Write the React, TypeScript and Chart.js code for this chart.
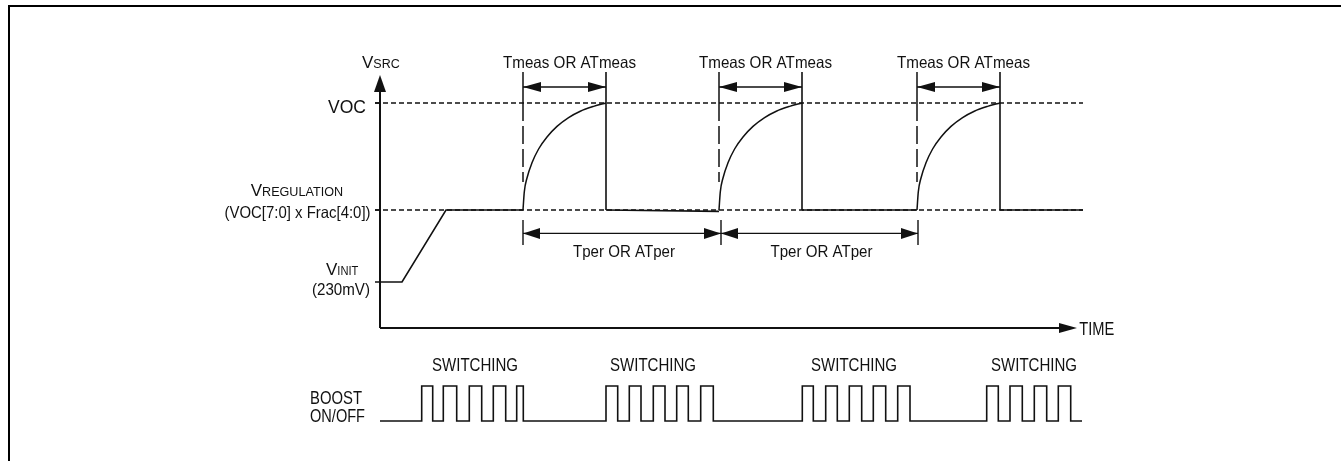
import { useEffect, useRef } from "react";
import { Chart, registerables } from "chart.js";

Chart.register(...registerables);

const FONT = '"Liberation Sans", Arial, Helvetica, sans-serif';
const INK = "#111111";

// ---- voltage levels (mV) ----
const V_OC = 1125;
const V_REG = 590;
const V_INIT = 230;
const V_AXIS_TOP = 1265;

// ---- time (arbitrary units) ----
const T_AXIS_END = 69.7;
const T_END = 70.3;
const RAMP_T = [0, 2.2, 6.6];
const RAMP_MV = [230, 230, 590];
const CYCLE_START = [14.3, 33.9, 53.7];
const T_MEAS = 8.3;
const REG_AFTER_DROP = [583, 590, 590];
// shape of one measurement rise (offset from cycle start, mV)
const CURVE_DT = [0, 0.13, 0.4, 0.9, 1.56, 2.4, 3.4, 4.56, 5.73, 7.06, 8.3];
const CURVE_MV = [590, 681, 750, 826, 895, 955, 1008, 1052, 1084, 1108, 1125];

// ---- annotation markers ----
const TPER_MARKS = [14.3, 34.1, 53.8];
const MARK_TOP_MV = 1280;
const TMEAS_ARROW_MV = 1205;
const DASH_END_MV = 730;
const TPER_ARROW_MV = 473;
const TPER_TICK_MV = [415, 540];

// ---- boost on/off edges (time of each toggle, starting low) ----
const BOOST_GROUPS = [
  [4.17, 5.27, 6.33, 7.67, 8.93, 10.17, 11.33, 12.57, 13.67, 14.33],
  [22.6, 23.77, 24.93, 26.1, 27.33, 28.5, 29.67, 30.83, 32.07, 33.33],
  [42.23, 43.33, 44.57, 45.73, 46.93, 48.17, 49.33, 50.57, 51.77, 53.0],
  [60.67, 61.83, 63.0, 64.23, 65.43, 66.67, 67.83, 69.07],
];
const BOOST_END = 70.2;

// ---- texts ----
const TMEAS_LABEL = "Tmeas OR ATmeas";
const TPER_LABEL = "Tper OR ATper";
const SWITCH_LABEL = "SWITCHING";
const SWITCH_AT = [9.5, 27.3, 47.4, 65.4];

type P = { x: number; y: number | null };

function segs(list: number[][]): P[] {
  const out: P[] = [];
  list.forEach((s, i) => {
    if (i > 0) out.push({ x: s[0], y: null });
    out.push({ x: s[0], y: s[1] });
    out.push({ x: s[2], y: s[3] });
  });
  return out;
}

export default function App() {
  const ref = useRef<HTMLCanvasElement>(null);

  useEffect(() => {
    const canvas = ref.current!;
    const ds = (data: P[], extra: any = {}) => ({
      data,
      borderColor: INK,
      backgroundColor: INK,
      borderWidth: 1.5,
      pointRadius: 0,
      pointHoverRadius: 0,
      showLine: true,
      fill: false,
      tension: 0,
      spanGaps: false,
      ...extra,
    });

    const peaks = CYCLE_START.map((s) => s + T_MEAS);

    // main flat/ramp waveform
    const flat: P[] = [];
    RAMP_T.forEach((t, i) => flat.push({ x: t, y: RAMP_MV[i] }));
    flat.push({ x: CYCLE_START[0], y: V_REG });
    peaks.forEach((p, i) => {
      flat.push({ x: p, y: null });
      flat.push({ x: p, y: V_REG });
      const next = i + 1 < CYCLE_START.length ? CYCLE_START[i + 1] : T_END;
      flat.push({ x: next, y: REG_AFTER_DROP[i] });
    });

    const curves = CYCLE_START.map((s) =>
      ds(
        CURVE_DT.map((d, i) => ({ x: s + d, y: CURVE_MV[i] })),
        { cubicInterpolationMode: "monotone" }
      )
    );

    // boost waveform
    const boost: P[] = [{ x: 0, y: 0 }];
    let level = 0;
    BOOST_GROUPS.forEach((g) =>
      g.forEach((t) => {
        boost.push({ x: t, y: level });
        level = 1 - level;
        boost.push({ x: t, y: level });
      })
    );
    boost.push({ x: BOOST_END, y: 0 });

    const tperLines: number[][] = [];
    TPER_MARKS.forEach((m) => tperLines.push([m, TPER_TICK_MV[0], m, TPER_TICK_MV[1]]));
    for (let i = 0; i + 1 < TPER_MARKS.length; i++)
      tperLines.push([TPER_MARKS[i], TPER_ARROW_MV, TPER_MARKS[i + 1], TPER_ARROW_MV]);

    const datasets: any[] = [
      ds([{ x: -0.5, y: V_REG }, { x: T_END, y: V_REG }], { borderDash: [5, 3], borderWidth: 1.6 }),
      ds([{ x: -0.5, y: V_OC }, { x: T_END, y: V_OC }], { borderDash: [5, 3], borderWidth: 1.6 }),
      ds(segs(CYCLE_START.map((s) => [s, V_OC, s, DASH_END_MV])), { borderDash: [18, 5], borderWidth: 1.5 }),
      ds(segs(CYCLE_START.map((s) => [s, MARK_TOP_MV, s, V_OC])), { borderWidth: 1.5 }),
      ds(segs(peaks.map((p) => [p, MARK_TOP_MV, p, V_REG])), { borderWidth: 1.6 }),
      ds(segs(CYCLE_START.map((s, i) => [s, TMEAS_ARROW_MV, peaks[i], TMEAS_ARROW_MV])), { borderWidth: 1.4 }),
      ds(segs(tperLines), { borderWidth: 1.4 }),
      ds(segs([[-0.5, V_OC, 0, V_OC], [-0.5, V_REG, 0, V_REG], [-0.5, V_INIT, 0, V_INIT]]), { borderWidth: 1.5 }),
      ds(flat, { borderWidth: 1.6 }),
      ...curves,
      ds(segs([[0, 0, 0, V_AXIS_TOP - 60], [0, 0, T_AXIS_END - 1.2, 0]]), { borderWidth: 2 }),
      ds(boost, { yAxisID: "yB", borderWidth: 1.6 }),
    ];

    const textPlugin = {
      id: "diagramText",
      afterDatasetsDraw(chart: any) {
        const ctx: CanvasRenderingContext2D = chart.ctx;
        const xs = chart.scales.x;
        const ys = chart.scales.y;
        const yb = chart.scales.yB;
        const X = (t: number) => xs.getPixelForValue(t);
        const Y = (v: number) => ys.getPixelForValue(v);
        const YB = (v: number) => yb.getPixelForValue(v);

        ctx.save();
        ctx.fillStyle = INK;

        const head = (x: number, y: number, dir: string, len: number, half: number) => {
          ctx.beginPath();
          ctx.moveTo(x, y);
          if (dir === "r") { ctx.lineTo(x - len, y - half); ctx.lineTo(x - len, y + half); }
          if (dir === "l") { ctx.lineTo(x + len, y - half); ctx.lineTo(x + len, y + half); }
          if (dir === "u") { ctx.lineTo(x - half, y + len); ctx.lineTo(x + half, y + len); }
          ctx.closePath();
          ctx.fill();
        };

        head(X(0), Y(V_AXIS_TOP), "u", 17, 6);
        head(X(T_AXIS_END), Y(0), "r", 18, 5);
        CYCLE_START.forEach((s) => {
          head(X(s), Y(TMEAS_ARROW_MV), "l", 18, 5);
          head(X(s + T_MEAS), Y(TMEAS_ARROW_MV), "r", 18, 5);
        });
        for (let i = 0; i + 1 < TPER_MARKS.length; i++) {
          head(X(TPER_MARKS[i]), Y(TPER_ARROW_MV), "l", 17, 5.5);
          head(X(TPER_MARKS[i + 1]), Y(TPER_ARROW_MV), "r", 17, 5.5);
        }

        // text helper: returns right edge
        const txt = (s: string, x: number, y: number, size: number, align: string, width?: number) => {
          ctx.font = `${size}px ${FONT}`;
          const w = ctx.measureText(s).width;
          const k = width ? width / w : 1;
          const ww = w * k;
          let left = x;
          if (align === "center") left = x - ww / 2;
          if (align === "right") left = x - ww;
          ctx.save();
          ctx.translate(left, y);
          ctx.scale(k, 1);
          ctx.textAlign = "left";
          ctx.textBaseline = "alphabetic";
          ctx.fillText(s, 0, 0);
          ctx.restore();
          return left + ww;
        };

        let r = txt("V", X(-1.8), Y(1300), 17, "left");
        txt("SRC", r, Y(1300), 12.5, "left");

        txt("VOC", X(-1.4), Y(1075), 17.5, "right", 38);

        r = txt("V", X(-12.93), Y(660), 17, "left");
        txt("REGULATION", r, Y(660), 13, "left", 81);
        txt("(VOC[7:0] x Frac[4:0])", X(-0.95), Y(551), 16.5, "right", 146);

        r = txt("V", X(-5.4), Y(265), 17, "left");
        txt("INIT", r, Y(265), 12.5, "left", 21);
        txt("(230mV)", X(-1.0), Y(165), 16.5, "right", 58);

        CYCLE_START.forEach((s) => txt(TMEAS_LABEL, X(s + T_MEAS / 2 + 0.5), Y(1300), 16.5, "center", 133));
        for (let i = 0; i + 1 < TPER_MARKS.length; i++)
          txt(TPER_LABEL, X((TPER_MARKS[i] + TPER_MARKS[i + 1]) / 2 + 0.2), Y(355), 16.5, "center", 102);

        txt("TIME", X(69.93), Y(-35), 18, "left", 35);

        SWITCH_AT.forEach((t) => txt(SWITCH_LABEL, X(t), YB(1.437), 17.5, "center", 86));
        txt("BOOST", X(-7), YB(0.486), 18, "left", 52);
        txt("ON/OFF", X(-7), YB(-0.03), 18, "left", 55);

        ctx.restore();
      },
    };

    const chart = new Chart(canvas, {
      type: "scatter",
      data: { datasets },
      options: {
        responsive: false,
        animation: false,
        devicePixelRatio: 1,
        events: [],
        layout: { padding: 0 },
        plugins: { legend: { display: false }, tooltip: { enabled: false } },
        scales: {
          x: { type: "linear", display: false, min: -38, max: 96.1 },
          y: { type: "linear", display: false, min: -665, max: 1640 },
          yB: { type: "linear", display: false, min: -1.143, max: 12.03, position: "left" },
        },
      } as any,
      plugins: [textPlugin],
    });
    return () => chart.destroy();
  }, []);

  return (
    <div style={{ position: "fixed", left: 0, top: 0, width: 1341, height: 461, background: "#fff" }}>
      <div
        style={{
          position: "absolute",
          left: 8,
          top: 5,
          right: 0,
          bottom: 0,
          borderTop: "2px solid #000",
          borderLeft: "2px solid #000",
        }}
      />
      <canvas
        ref={ref}
        width={1341}
        height={461}
        style={{ position: "absolute", left: 0, top: 0, width: 1341, height: 461 }}
      />
    </div>
  );
}
